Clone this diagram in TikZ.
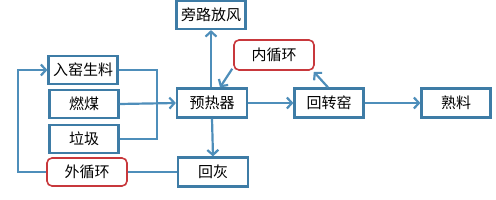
\documentclass[tikz,border=0pt]{standalone}
\usepackage{fontspec}
\setmainfont{Noto Sans CJK SC}
\usetikzlibrary{arrows.meta}
\definecolor{boxblue}{RGB}{62,124,166}
\definecolor{lineblue}{RGB}{78,142,186}
\definecolor{loopred}{RGB}{200,56,60}
\begin{document}
\begin{tikzpicture}[
            x=1pt, y=-1pt,
            box/.style={draw=boxblue, line width=2.2pt, fill=white, minimum width=69pt, minimum height=28pt, inner sep=0pt, font=\fontsize{15}{15}\selectfont},
            loopbox/.style={box, draw=loopred, line width=1.6pt, rounded corners=5pt, minimum width=80pt},
            link/.style={draw=lineblue, line width=2.2pt},
            flow/.style={link, -{Straight Barb[length=5pt, width=11pt]}}
            ]
            \useasboundingbox (0,0) rectangle (496,200);
            \node[box] (bypass) at (211,15) {旁路放风};
            \node[loopbox, minimum height=30pt] (inner) at (274,55) {内循环};
            \node[box, minimum width=70pt, minimum height=29pt] (preheat) at (212,103) {预热器};
            \node[box, minimum height=29pt] (kiln) at (329,103) {回转窑};
            \node[box, minimum height=29pt] (clinker) at (456,103) {熟料};
            \node[box] (meal) at (83,70) {入窑生料};
            \node[box] (coal) at (84,104) {燃煤};
            \node[box] (waste) at (84,139) {垃圾};
            \node[loopbox] (outer) at (87,172) {外循环};
            \node[box, minimum width=70pt, minimum height=29pt] (ash) at (213,172) {回灰};

            \draw[link] (meal.east) -| (157,139) -- (waste.east);
            \draw[flow] (coal.east) -- (preheat.west);
            \draw[flow] (outer.west) -| (18,70) -- (meal.west);
            \draw[link] (outer.east) -- (ash.west);
            \draw[flow] (preheat.south) -- (ash.north);
            \draw[flow] (preheat.north -| bypass.south) -- (bypass.south);
            \draw[flow] ([xshift=-1pt,yshift=2pt]inner.south west) -- ([xshift=8pt]preheat.north);
            \draw[flow] (preheat.east) -- (kiln.west);
            \draw[flow] (kiln.east) -- (clinker.west);
            \draw[flow] ([xshift=-1pt]kiln.north) -- ([xshift=-1pt,yshift=-1pt]inner.south east);

            \end{tikzpicture}
\end{document}
